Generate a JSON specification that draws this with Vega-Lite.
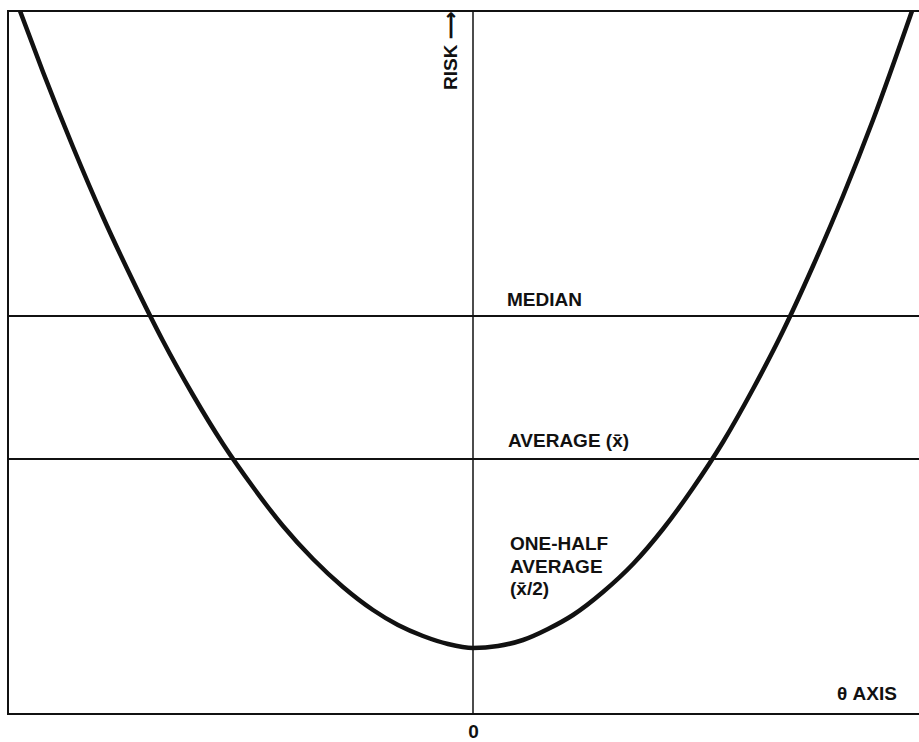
{
  "$schema": "https://vega.github.io/schema/vega-lite/v6.json",
  "width": 916,
  "height": 703,
  "autosize": {"type": "none"},
  "padding": {"left": 8, "top": 11, "right": 0, "bottom": 28},
  "background": "white",
  "config": {
    "view": {"stroke": "#111", "strokeWidth": 2},
    "font": "Liberation Sans"
  },
  "datasets": {
    "curve": [
      {"theta": -4.53, "risk": 7.03},
      {"theta": -4.30, "risk": 6.42},
      {"theta": -4.00, "risk": 5.67},
      {"theta": -3.70, "risk": 4.97},
      {"theta": -3.40, "risk": 4.33},
      {"theta": -3.10, "risk": 3.73},
      {"theta": -2.80, "risk": 3.19},
      {"theta": -2.50, "risk": 2.70},
      {"theta": -2.20, "risk": 2.27},
      {"theta": -1.90, "risk": 1.88},
      {"theta": -1.60, "risk": 1.55},
      {"theta": -1.30, "risk": 1.27},
      {"theta": -1.00, "risk": 1.04},
      {"theta": -0.75, "risk": 0.89},
      {"theta": -0.50, "risk": 0.78},
      {"theta": -0.25, "risk": 0.70},
      {"theta": 0.00, "risk": 0.66},
      {"theta": 0.25, "risk": 0.68},
      {"theta": 0.50, "risk": 0.74},
      {"theta": 0.75, "risk": 0.85},
      {"theta": 1.00, "risk": 0.99},
      {"theta": 1.30, "risk": 1.22},
      {"theta": 1.60, "risk": 1.50},
      {"theta": 1.90, "risk": 1.85},
      {"theta": 2.20, "risk": 2.26},
      {"theta": 2.50, "risk": 2.72},
      {"theta": 2.80, "risk": 3.25},
      {"theta": 3.10, "risk": 3.83},
      {"theta": 3.40, "risk": 4.48},
      {"theta": 3.70, "risk": 5.18},
      {"theta": 4.00, "risk": 5.94},
      {"theta": 4.39, "risk": 7.03}
    ],
    "levels": [
      {"name": "MEDIAN", "risk": 3.98},
      {"name": "AVERAGE", "risk": 2.55}
    ],
    "labels": [
      {"text": "MEDIAN", "theta": 0.34, "risk": 4.08},
      {"text": "AVERAGE (x̄)", "theta": 0.35, "risk": 2.67},
      {"text": "ONE-HALF\nAVERAGE\n(x̄/2)", "theta": 0.37, "risk": 1.64},
      {"text": "θ AXIS", "theta": 3.64, "risk": 0.14}
    ],
    "axislabel": [
      {"text": "RISK ⟶", "theta": -0.16, "risk": 6.24}
    ],
    "origin": [
      {"theta": 0}
    ]
  },
  "layer": [
    {
      "data": {"name": "origin"},
      "mark": {"type": "rule", "color": "#111", "strokeWidth": 1.5},
      "encoding": {
        "x": {
          "field": "theta", "type": "quantitative",
          "scale": {"domain": [-4.65, 4.51], "nice": false, "zero": false},
          "axis": {
            "values": [0], "title": null, "ticks": false, "domain": false, "grid": false,
            "labelFontSize": 19, "labelFontWeight": "bold", "labelColor": "#111",
            "labelPadding": 8, "labelFont": "Liberation Sans", "labelOverlap": false, "labelBound": false, "labelFlush": false
          }
        }
      }
    },
    {
      "data": {"name": "levels"},
      "mark": {"type": "rule", "color": "#111", "strokeWidth": 2},
      "encoding": {
        "y": {
          "field": "risk", "type": "quantitative",
          "scale": {"domain": [0, 7.03], "nice": false, "zero": false},
          "axis": null
        }
      }
    },
    {
      "data": {"name": "curve"},
      "mark": {"type": "line", "color": "#111", "strokeWidth": 4.5, "interpolate": "monotone"},
      "encoding": {
        "x": {
          "field": "theta", "type": "quantitative",
          "scale": {"domain": [-4.65, 4.51], "nice": false, "zero": false},
          "axis": {
            "values": [0], "title": null, "ticks": false, "domain": false, "grid": false,
            "labelFontSize": 19, "labelFontWeight": "bold", "labelColor": "#111",
            "labelPadding": 8, "labelFont": "Liberation Sans", "labelOverlap": false, "labelBound": false, "labelFlush": false
          }
        },
        "y": {"field": "risk", "type": "quantitative", "scale": {"domain": [0, 7.03], "nice": false, "zero": false}, "axis": null}
      }
    },
    {
      "data": {"name": "labels"},
      "mark": {"type": "text", "align": "left", "baseline": "alphabetic", "fontSize": 19, "fontWeight": "bold", "color": "#111", "lineBreak": "\n", "lineHeight": 22.5},
      "encoding": {
        "x": {
          "field": "theta", "type": "quantitative",
          "scale": {"domain": [-4.65, 4.51], "nice": false, "zero": false},
          "axis": {
            "values": [0], "title": null, "ticks": false, "domain": false, "grid": false,
            "labelFontSize": 19, "labelFontWeight": "bold", "labelColor": "#111",
            "labelPadding": 8, "labelFont": "Liberation Sans", "labelOverlap": false, "labelBound": false, "labelFlush": false
          }
        },
        "y": {"field": "risk", "type": "quantitative", "scale": {"domain": [0, 7.03], "nice": false, "zero": false}, "axis": null},
        "text": {"field": "text", "type": "nominal"}
      }
    },
    {
      "data": {"name": "axislabel"},
      "mark": {"type": "text", "align": "left", "baseline": "alphabetic", "angle": 270, "fontSize": 19, "fontWeight": "bold", "color": "#111"},
      "encoding": {
        "x": {
          "field": "theta", "type": "quantitative",
          "scale": {"domain": [-4.65, 4.51], "nice": false, "zero": false},
          "axis": {
            "values": [0], "title": null, "ticks": false, "domain": false, "grid": false,
            "labelFontSize": 19, "labelFontWeight": "bold", "labelColor": "#111",
            "labelPadding": 8, "labelFont": "Liberation Sans", "labelOverlap": false, "labelBound": false, "labelFlush": false
          }
        },
        "y": {"field": "risk", "type": "quantitative", "scale": {"domain": [0, 7.03], "nice": false, "zero": false}, "axis": null},
        "text": {"field": "text", "type": "nominal"}
      }
    }
  ]
}
